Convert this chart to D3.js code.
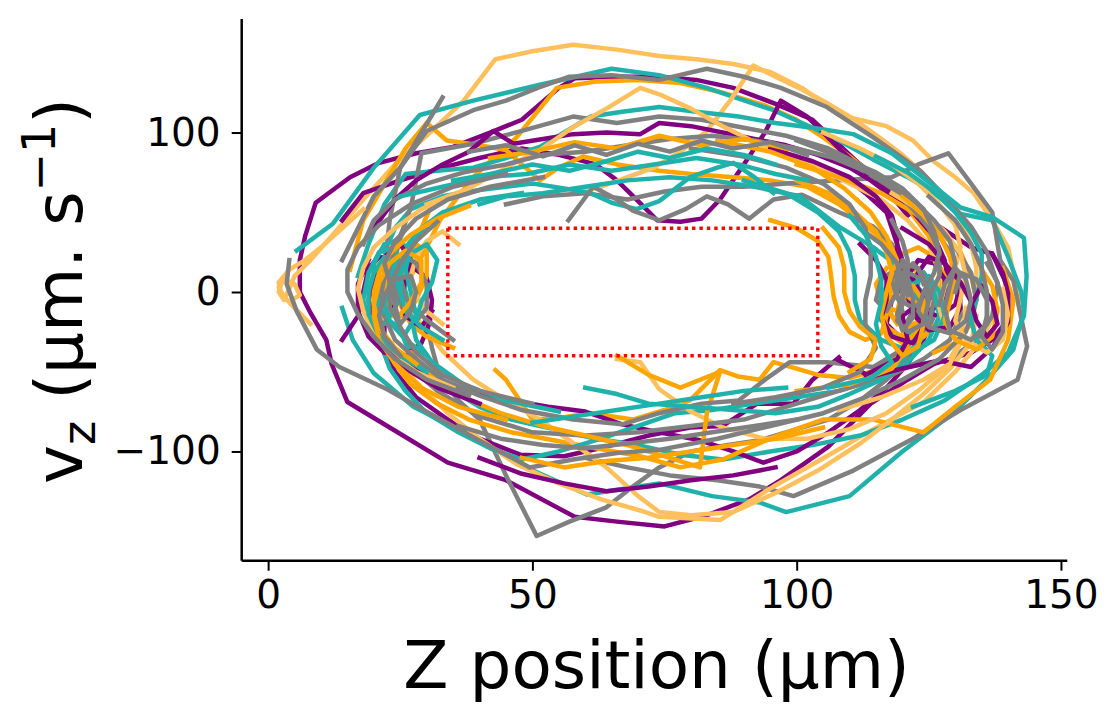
<!DOCTYPE html>
<html>
<head>
<meta charset="utf-8">
<script src="https://cdn.jsdelivr.net/npm/d3@7"></script>
<style>
  body { margin: 0; background: #fff; }
  text { font-family: "DejaVu Sans", sans-serif; }
</style>
</head>
<body>
<script>
// phase portrait: z position (um) vs vz (um/s), one run = one tracked particle
var zTicks = [0, 50, 100, 150];
var vTicks = [-100, 0, 100];
var zoneZ = [34, 104];
var zoneV = [-40, 40];

var purpleRuns = [
  [[6,0],[6,20],[7,35],[9,56],[15.5,72],[21,81],[28,87],[35,91],[42,100],[48,108],[55,128],[58,134],[66,135],[74,135],[81,133],[88,128],[96,118],[103,108],[111,83],[118,62],[123,48],[127,41],[133,28],[137,24],[140,3],[140,-17],[137,-30],[133,-38],[126,-45],[121,-55],[114,-70],[106,-97],[97,-118],[91,-130],[83,-140],[75,-147],[66,-144],[58,-141],[45,-118],[34,-107],[23,-85],[15,-69],[12,-45],[11,-30],[8,-13],[6,0]],
  [[14,45],[18,62],[25,70],[33,78],[40,84],[48,90],[55,86],[62,80],[66,70],[70,57],[73.6,45],[78,44],[82,46],[85.5,58],[90.6,83],[94,100],[97,120],[102,110],[108,90],[113,75],[118,62],[122,50],[126,35],[128,20],[129,0],[128,-15],[125,-25],[120,-30],[117,-20],[118,-5],[121,8],[124,12],[126,2],[125,-12]],
  [[108,-41],[103,-55],[99.4,-70],[92.5,-70],[86,-84],[79.8,-85],[72,-90],[64,-97],[56,-103],[47.7,-102],[40,-92],[34,-80],[28,-66],[24,-50],[22,-35],[22,-20],[24,-8]],
  [[20,-25],[24,-40],[30,-52],[38,-62],[46,-68],[53,-72],[60,-75],[67,-83],[74,-88],[81.7,-93],[88,-100],[93.7,-107],[100,-100],[106,-88],[112,-74],[117,-60],[121,-45],[124,-30],[125,-15],[124,0]],
  [[14,-30],[17,-15],[18,0],[19,15],[21,22],[25,20],[28,14],[30,9],[31,-5],[30.6,-19],[29,-32],[26,-40],[22,-38],[19,-28],[17,-12],[17,5],[19,20]],
  [[110,70],[113,62],[117,50],[118,40],[119,30],[120,20],[122,8],[124,-4],[126,-10],[128,-3],[128,8],[126,18],[123,20],[121,10],[121,-3],[123,-12],[127,-15],[130,-8],[131,4]],
  [[20,40],[24,58],[28,70],[33,80],[38,88],[42.6,101],[46.4,93],[52,96],[57.7,99],[64,100],[70.4,99],[74,106],[80,104],[86,100],[92,96],[98,92],[104,86],[110,78],[114,70],[118,60],[121,48]],
  [[108,-43],[114,-53],[120,-48],[127,-43],[133,-47],[137,-35],[140,-19],[140,-1],[139,12],[137,24]],
  [[95,90],[103,82],[110,72],[115,60],[118,48],[119,36],[119,22],[120,10],[121,-2],[122,-14],[125,-24],[129,-22],[131,-10],[130,5],[128,18],[125,22],[123,12]],
  [[112,30],[115,20],[117,8],[117,-5],[116,-16],[118,-28],[122,-32],[124,-22],[122,-10],[120,-15],[121,-30],[119,-42],[113,-52]],
  [[40,-70],[32,-60],[26,-48],[22,-35],[20,-20],[19,-5],[20,10],[22,22],[25,30],[27,20],[26,8],[25,-4],[26,-15],[29,-22],[31,-12]],
  [[96,-110],[88,-115],[80,-118],[72,-122],[64,-125],[56,-120],[48,-114],[40,-104]],
  [[120,40],[125,30],[128,18],[131,6],[133,-6],[134,-18],[136,-28],[138,-20],[137,-6],[135,4],[133,-8]]
];

var orangeRuns = [
  [[22,-20],[24,-5],[27,10],[30,28],[32.5,45],[38.8,72],[47,97],[54.6,128],[62,132],[70,133],[78,131],[86,125],[94,117],[100,108],[105,97],[110,85],[115,72],[119,60],[122,48],[125,35],[127,18],[127,0],[125,-15],[121,-22],[118,-15],[117,0],[119,12],[122,16],[124,6]],
  [[15.5,14],[18,45],[21.7,66],[26,90],[30,106],[33.8,95],[40,92],[45,89],[51.4,70],[55,78],[59.6,85],[66,80],[74,76],[80,74],[88,72],[95,70],[102,66],[108,55],[113,42],[117,30],[120,15],[121,0],[119,-12],[116,-8],[115,5],[117,15]],
  [[43,-49],[45,-55],[50,-80],[55,-79],[61,-76],[69,-80],[75,-74],[79.8,-68],[85.5,-49],[89,-53],[93,-55],[95.6,-44],[100,-48],[104,-52],[110,-54],[114,-50],[118,-42],[121,-30],[123,-18],[123,-4],[121,6],[118,2],[117,-10],[119,-20]],
  [[139,15],[141,-5],[140,-30],[136.6,-55],[130,-72],[124,-88],[114.5,-80],[105,-80],[95.6,-91],[86,-105],[78,-110],[70.4,-103],[62,-98],[54,-93],[46,-88],[38,-80],[32,-70],[27,-58],[24,-45],[22,-30],[21,-12],[22,4]],
  [[95,45],[100,40],[104,32],[106,22],[106.5,10],[107,-3],[108,-15],[110,-25],[113,-30],[116,-26],[117,-15],[117,0],[118,14],[120,24],[123,28],[126,22],[128,10],[128,-5],[127,-18],[124,-28],[120,-32],[117,-25]],
  [[35,-35],[30,-28],[27,-20],[25,-8],[25,8],[26,20],[28,30],[30,25],[30,10],[28,-5],[26,-15],[23,-15],[22,-2],[23,12],[25,22],[27,28],[29,40],[31,55]],
  [[66,-40],[72,-52],[78,-60],[85.5,-50],[83,-76],[81.7,-110],[76,-104],[68,-96],[60,-90],[52,-84],[44,-76],[37,-66],[31,-52],[27,-38]],
  [[100,80],[108,72],[116,62],[122,50],[127,38],[131,25],[133,10],[134,-5],[133,-20],[130,-32],[126,-38]],
  [[85,95],[95,88],[103,78],[109,65],[114,50],[117,35],[119,20],[118,5],[116,-8],[117,-22],[121,-30],[124,-22],[123,-8],[120,0],[119,-12],[121,-35],[118,-48],[110,-58],[100,-62]],
  [[100,70],[106,62],[111,50],[115,38],[117,25],[118,12],[117,0],[116,-14],[117,-28],[120,-40],[123,-34],[124,-20],[124,-6],[122,4],[120,-4]],
  [[120,60],[124,48],[127,36],[129,22],[130,8],[129,-6],[128,-18],[130,-30],[134,-36],[137,-28],[138,-12],[137,4],[135,14]],
  [[45,-80],[36,-72],[29,-60],[24,-45],[21,-30],[20,-15],[20,0],[21,12],[23,24],[27,36],[32,46],[38,54]],
  [[42,84],[50,88],[58,94],[66,90],[74,98],[82,92],[90,96],[98,90]],
  [[105,-85],[96,-92],[88,-96],[80,-100],[72,-104],[64,-106],[56,-110],[48,-104]],
  [[105,40],[108,28],[109,15],[109,0],[110,-12],[112,-22],[115,-30],[114,-42],[110,-50]],
  [[28,-45],[24,-35],[21,-22],[20,-8],[21,6],[23,18],[26,26],[29,20],[29,6],[27,-6],[25,-14]]
];

var lightRuns = [
  [[2.5,5],[2,0],[3,-5],[4,2],[5,10],[8,20],[12,35],[18,58],[24,80],[31,101],[37,120],[43,146],[50,151],[57.7,155],[66,152],[74,148],[81,146],[88,143],[95,138],[101,128],[108,111],[117,104],[122,95],[125.9,82],[130,72],[133.5,62],[137,45],[140,28],[141,12],[142,-5]],
  [[58,62],[63,66],[68,72],[73,78],[78,88],[83,101],[87.4,120],[91.8,142],[96,135],[101,127],[106,118],[111,108],[116,96],[120,86],[124,74],[128,60],[131,46],[133,30],[134,15],[134,0],[133,-15]],
  [[138,-10],[135,-30],[130,-50],[124,-69],[114.5,-86],[105.7,-103],[95.6,-122],[85.5,-143],[74,-141],[70.4,-137],[63,-130],[55,-120],[47,-108],[40,-92],[34,-76],[29,-60],[25,-45],[22,-28],[20,-10],[19,8],[21,20],[24,25],[26,14]],
  [[22,20],[24,10],[26,0],[28.7,-19],[33,-37],[38.8,-55],[45,-68],[51.4,-80],[57,-93],[64,-110],[70,-128],[74,-138],[80,-140],[88,-138],[96,-126],[104,-112],[112,-95],[118,-80],[124,-64],[129,-48],[133,-32],[134,-15]],
  [[66,-42],[70.4,-44],[74,-61],[80,-75],[86,-85],[94,-92],[102,-92],[110,-86],[117,-76],[123,-62],[128,-48],[131,-30],[132,-10]],
  [[8,-20],[5,-10],[3,-3],[2,3],[3,8],[5,5],[6,-2],[4,-6],[2.5,-2],[2,6],[4,14],[7,20],[10,28],[14,40],[18,52]],
  [[30,55],[38,65],[45,78],[51.4,89],[58,104],[64,115],[70.4,128],[74,124],[80,115],[86,104],[92,94],[98,86],[104,78],[110,68],[116,58],[121,45],[125,30],[127,12],[126,-5],[123,-15]],
  [[105,100],[112,90],[118,80],[123,68],[127,55],[130,42],[131,28],[130,15],[128,3],[127,-10],[128,-22],[131,-32],[129,-45],[124,-55],[116,-66],[108,-74]],
  [[35,-60],[28,-50],[23,-38],[20,-25],[18,-12],[17,2],[18,15],[20,28],[24,40],[29,52],[36,62]],
  [[118,62],[124,50],[128,38],[131,24],[132,10],[131,-4],[130,-18],[132,-30],[136,-38],[139,-30],[140,-14],[139,2]],
  [[33,-20],[30,-12],[28,-2],[27,10],[28,22],[30,32],[33,38],[36,30]]
];

var greyRuns = [
  [[30,-20],[31,-35],[32.5,-53],[36,-68],[40,-80],[45,-115],[50.8,-153],[57,-144],[64,-135],[69,-122],[74,-110],[80,-100],[87,-96],[93,-93],[100,-86],[106,-80],[112,-68],[117,-55],[121,-42],[124,-30],[126,-15]],
  [[45,55],[52,60],[60,62],[68,58],[75,63],[82,66],[90,66],[98,68],[108,70],[113,71],[118,72],[123,80],[128.7,87],[133,68],[137,50],[138.5,20],[141,7],[143.6,-34],[141.8,-55],[131,-74],[122,-92],[110.7,-112],[99.4,-128],[93,-122],[85,-118],[76,-115],[68,-110],[60,-104]],
  [[14,20],[17,40],[20,60],[25,78],[30,101],[38.8,114],[45,120],[51,128],[57,135],[65,136],[74,133],[83,140],[90,135],[97,128],[105.7,116],[114.5,97],[119.6,85],[123.4,76],[128,60],[133,41],[136,25],[138,5],[137,-15],[134,-30],[130,-40]],
  [[20,-30],[20.5,-15],[21.7,-5],[22,15],[23,45],[24,62],[25,78],[29,100],[33,122]],
  [[56.8,45],[61.5,66],[66,58],[69,51],[74,45],[79,52],[83,60],[87,55],[91,46],[95.6,58],[101,61],[108,50],[114.5,41],[118,30],[120,15],[119,0],[117,-12],[115,-5],[116,8],[119,15],[122,8],[123,-5],[121,-18]],
  [[21,-10],[22,10],[24,20],[25,35],[27,53],[29,87],[38.8,93],[48,101],[57.7,110],[66,106],[74,110],[82,108],[90,103],[98,98],[106,90],[112,80],[117,68],[122,55],[126,40],[129,25],[131,5],[131,-15],[129,-30],[124,-42],[118,-52],[110,-60],[100,-70],[90,-80],[80,-84],[70,-88],[60,-90],[50,-88],[40,-78],[32,-62],[26,-45],[22,-30]],
  [[22,-15],[24,-30],[28,-42],[33,-55],[40,-65],[48,-74],[57.7,-80],[67,-83],[74,-76],[82,-70],[89,-68],[94,-55],[98.7,-44],[105.7,-44],[114.5,-47],[121,-34],[125,-20],[126,-5],[124,8],[121,12],[120,0],[122,-10]],
  [[4,20],[3.5,5],[5.4,-12],[9.2,-36],[13.5,-47],[22.5,-61],[30,-75],[38.8,-91],[49.5,-110],[57.7,-105],[66,-101],[74,-99],[85,-92],[95,-84],[105,-76],[113,-66],[120,-55],[127,-42],[132,-25],[134,-5],[133,12],[130,28]],
  [[18,30],[20,45],[24,58],[30,68],[37,75],[45,80],[52,86],[60,88],[68,92],[76,96],[84,98],[92,95],[100,90],[107,84],[113,76],[118,65],[122,52],[125,40],[127,25],[127,10],[125,-3],[122,-10],[119,-4],[118,8],[120,18],[123,15],[124,5]],
  [[112,40],[116,30],[119,18],[120,5],[120,-8],[119,-18],[121,-25],[124,-20],[125,-5],[124,10],[122,18],[120,12],[121,-2]],
  [[26,40],[24,28],[23,15],[24,0],[26,-12],[28,-18],[30,-10],[30,5],[28,18],[26,22],[25,10],[26,-4],[28,-12],[31,-20],[35,-30]],
  [[80,90],[90,85],[98,78],[105,68],[110,55],[113,40],[114,25],[114,10],[113,-5],[113,-20],[115,-35],[112,-50],[105,-60],[96,-66],[88,-70]],
  [[100,95],[108,85],[115,75],[120,65],[124,52],[126,38],[127,25],[126,12],[124,0],[123,-12],[125,-22],[129,-26],[132,-18],[133,-5],[132,8],[130,15],[128,5],[127,-8]],
  [[110,80],[117,70],[122,58],[126,45],[129,32],[130,18],[129,4],[128,-10],[129,-24],[133,-30],[136,-20],[136,-5],[134,8],[131,12],[130,0]],
  [[118,45],[120,32],[121,20],[121,8],[120,-4],[119,-14],[120,-24],[122,-16],[122,-4],[121,8],[120,20],[119,10],[119,-2],[120,-12]],
  [[50,-70],[40,-62],[33,-52],[28,-38],[25,-22],[24,-8],[23,6],[22,18],[24,32],[28,46],[34,58],[42,66],[52,72]],
  [[38,-65],[30,-55],[24,-42],[20,-28],[17,-14],[15,0],[15,14],[17,28],[21,42],[27,55],[35,66],[45,74]],
  [[25,-40],[22,-28],[21,-15],[22,-2],[24,8],[27,10],[28,0],[27,-12],[25,-20],[23,-10],[23,4],[25,18],[28,32],[32,44]],
  [[38,88],[45,92],[52,85],[58,92],[64,86],[70,93],[76,88],[82,95],[88,90],[95,94],[102,86]],
  [[100,-80],[92,-84],[84,-88],[76,-92],[68,-95],[60,-98],[52,-96],[44,-92],[36,-84]],
  [[125,60],[130,45],[133,30],[135,15],[136,0],[136,-15],[135,-28],[137,-36],[139,-25],[139,-8],[138,6],[136,18]]
];

var tealRuns = [
  [[5.4,26],[12.3,43],[20,78],[28.7,111],[38.8,120],[51.4,130],[65,140],[74,136],[83,128],[95.6,114],[103,103],[108,95],[114.5,83],[121,72],[126,62],[131,49],[137,45],[140,22],[142.5,0],[143,-12],[141,-36],[136,-55],[129.6,-76],[120,-100],[110,-128],[98,-138],[93,-132],[84,-128],[74,-120],[66,-124],[60.3,-127],[49.5,-111],[38.8,-91],[27.5,-72],[20,-51],[16,-30],[14,-10]],
  [[22,25],[24,40],[27,52],[33,60],[40,64],[45,66],[50,68],[56,65],[61,62],[65,56],[69.7,52],[74,57],[79.8,72],[85,78],[88,81],[92,72],[95.6,62]],
  [[17,10],[19,30],[22,55],[26,74],[32,76],[38.8,78],[45,84],[51.4,91],[56,100],[61,110],[67,113],[74,116],[81,113],[89,110],[96,106],[103,103],[110.7,99],[118,87],[124.6,70],[131,53],[137,47],[143,34],[143.5,10],[143,-15],[140,-38],[135,-52],[128,-68],[120,-80],[112,-90],[103,-96],[95,-100],[86,-105],[78,-102],[70,-96],[62,-92],[54,-86],[46,-80],[40,-72],[34,-60],[29,-48],[26,-32],[24,-15]],
  [[126,-10],[124,-28],[120,-42],[115,-55],[108,-62],[100,-66],[92,-70],[84,-74],[77,-76],[70,-84],[63,-92],[55,-100],[48,-105],[42,-98],[36,-88],[30,-76],[26,-62],[23,-48],[21,-30],[20,-12],[21,5],[23,15],[25,8],[24,-5]],
  [[40,55],[45,60],[52,62],[60,66],[68,70],[76,72],[84,70],[92,66],[100.6,60],[108,41],[114.5,28],[119.6,15],[124,-1],[125,-15],[123,-25],[119,-28],[116,-18],[116,-3],[118,10],[121,14],[123,5],[122,-8]],
  [[30,-40],[26,-30],[22,-15],[20,0],[20,18],[22,30],[25,33],[27,22],[26,5],[24,-10],[22,-20],[19,-18],[18,-5],[19,12],[21,25],[24,28],[25,15],[24,-2]],
  [[60,-60],[66,-64],[72,-70],[80,-72],[88,-74],[96,-76],[104,-72],[110,-64],[116,-55],[121,-44],[125,-30],[127,-15],[126,0],[124,12]],
  [[90,70],[98,62],[104,50],[108,38],[110,25],[111,10],[111,-5],[112,-18],[116,-30],[122,-38],[126,-30],[128,-15],[127,0],[125,10],[122,5]],
  [[115,85],[121,75],[126,63],[130,50],[133,37],[135,24],[135,10],[134,-4],[133,-18],[134,-30],[137,-40],[136,-52],[130,-62],[122,-72]],
  [[55,-75],[45,-68],[37,-58],[31,-44],[28,-30],[27,-15],[26,0],[25,14],[26,28],[29,40],[33,50],[40,58],[48,62]],
  [[30,-50],[25,-40],[21,-28],[19,-14],[19,0],[20,12],[22,22],[24,18],[23,5],[22,-8],[23,-18],[26,-26],[28,-15],[27,0],[26,14],[27,28],[30,40]],
  [[33,-30],[29,-22],[26,-12],[25,0],[25,12],[27,24],[30,30],[32,20],[31,6],[29,-6],[28,-18]],
  [[35,70],[42,74],[50,80],[57,76],[64,82],[70,88],[76,84],[83,90],[90,86],[96,80]],
  [[25,60],[33,66],[41,72],[49,74],[57,80],[65,76],[73,80],[81,84],[89,80],[96,74],[102,70]],
  [[98,-60],[90,-62],[82,-66],[74,-70],[66,-74],[58,-78],[50,-82]],
  [[110,48],[113,36],[115,22],[116,8],[116,-6],[115,-20],[116,-34],[118,-44],[114,-54],[106,-60]]
];

var groupColor = {
  purple: "#800080",
  orange: "#ffa500",
  light: "#fec05c",
  grey: "#808080",
  teal: "#20b2aa"
};

var groups = [
  {name: "purple", runs: purpleRuns},
  {name: "orange", runs: orangeRuns},
  {name: "light", runs: lightRuns},
  {name: "grey", runs: greyRuns},
  {name: "teal", runs: tealRuns}
];

// interleave runs so no colour sits entirely on top
var runs = [];
var maxLen = d3.max(groups, function (g) { return g.runs.length; });
for (var i = 0; i < maxLen; i++) {
  groups.forEach(function (g) {
    if (i < g.runs.length) runs.push({group: g.name, pts: g.runs[i]});
  });
}

var width = 1120, height = 720;
var svg = d3.select("body").append("svg")
    .attr("width", width)
    .attr("height", height);

var x = d3.scaleLinear().domain([-5, 151.2]).range([241.7, 1067.3]);
var y = d3.scaleLinear().domain([-168.5, 171.2]).range([560.7, 19]);

var line = d3.line()
    .x(function (d) { return x(d[0]); })
    .y(function (d) { return y(d[1]); });

svg.append("g")
    .selectAll("path")
    .data(runs)
    .enter().append("path")
    .attr("d", function (d) { return line(d.pts); })
    .style("fill", "none")
    .style("stroke", function (d) { return groupColor[d.group]; })
    .style("stroke-width", "4.5px")
    .style("stroke-linejoin", "round")
    .style("stroke-linecap", "square");

// excluded zone
svg.append("rect")
    .attr("x", x(zoneZ[0]))
    .attr("y", y(zoneV[1]))
    .attr("width", x(zoneZ[1]) - x(zoneZ[0]))
    .attr("height", y(zoneV[0]) - y(zoneV[1]))
    .style("fill", "none")
    .style("stroke", "red")
    .style("stroke-width", "3.4px")
    .style("stroke-dasharray", "3.4,4");

function minus(d) { return d < 0 ? "\u2212" + Math.abs(d) : String(d); }

var xAxis = svg.append("g")
    .attr("transform", "translate(0," + 560.7 + ")")
    .call(d3.axisBottom(x).tickValues(zTicks).tickSize(10).tickPadding(10).tickFormat(minus));

var yAxis = svg.append("g")
    .attr("transform", "translate(" + 241.7 + ",0)")
    .call(d3.axisLeft(y).tickValues(vTicks).tickSize(10).tickPadding(11).tickFormat(minus));

[xAxis, yAxis].forEach(function (a) {
  a.select(".domain").attr("stroke", "#000").attr("stroke-width", 2.5);
  a.selectAll(".tick line").attr("stroke", "#000").attr("stroke-width", 2);
  a.selectAll(".tick text")
      .attr("fill", "#000")
      .style("font-family", "'DejaVu Sans', sans-serif")
      .style("font-size", "39px");
});
// matplotlib-style spine with no outer tick stubs
xAxis.select(".domain").attr("d", "M" + x.range()[0] + ",0H" + x.range()[1]);
yAxis.select(".domain").attr("d", "M0," + y.range()[0] + "V" + y.range()[1]);

svg.append("text")
    .attr("x", 656.5)
    .attr("y", 687.5)
    .attr("text-anchor", "middle")
    .style("font-size", "66px")
    .text("Z position (\u00b5m)");

var yl = svg.append("text")
    .attr("transform", "translate(82,291) rotate(-90)")
    .attr("text-anchor", "middle")
    .style("font-size", "66px");
yl.append("tspan").text("v");
yl.append("tspan").attr("dy", 13).style("font-size", "46px").text("z");
yl.append("tspan").attr("dy", -13).text(" (\u00b5m. s");
yl.append("tspan").attr("dy", -27).style("font-size", "46px").text("\u22121");
yl.append("tspan").attr("dy", 27).text(")");
</script>
</body>
</html>
